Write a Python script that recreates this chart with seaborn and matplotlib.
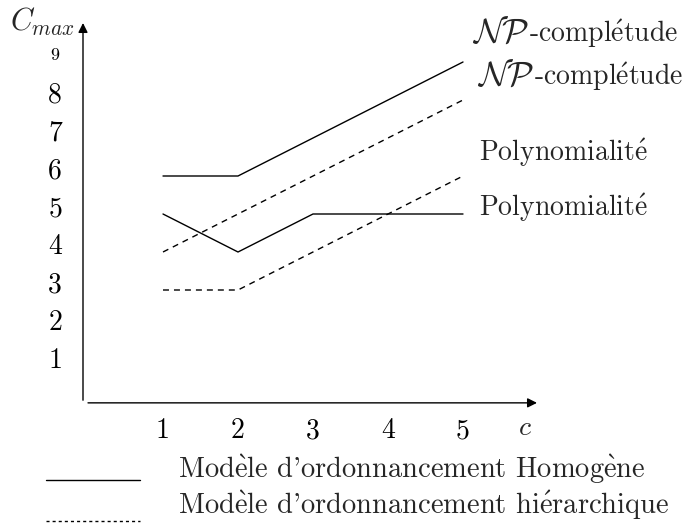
import pandas as pd
import matplotlib
matplotlib.use("Agg")
import matplotlib.pyplot as plt
import seaborn as sns
from matplotlib.lines import Line2D
from matplotlib.transforms import ScaledTranslation

# data
c_hom_np = [1, 2, 5]
cmax_hom_np = [6, 6, 9]
c_hom_poly = [1, 2, 3, 5]
cmax_hom_poly = [5, 4, 5, 5]
c_hier_np = [1, 5]
cmax_hier_np = [4, 8]
c_hier_poly = [1, 2, 5]
cmax_hier_poly = [3, 3, 6]

x_ticks = [1, 2, 3, 4, 5]
y_ticks = [1, 2, 3, 4, 5, 6, 7, 8, 9]
model_labels = ["Modèle d'ordonnancement Homogène", "Modèle d'ordonnancement hiérarchique"]
np_label = r"$\mathcal{NP}$"
np_suffix = "-complétude"
poly_label = "Polynomialité"


def tex(s):
    # cmr10 has no precomposed accents, let mathtext build them
    return s.replace("é", r"$\mathrm{\acute{e}}$").replace("è", r"$\mathrm{\grave{e}}$")


rows = []
for name, model, xs, ys in [
    ("hom_np", "Homogène", c_hom_np, cmax_hom_np),
    ("hom_poly", "Homogène", c_hom_poly, cmax_hom_poly),
    ("hier_np", "hiérarchique", c_hier_np, cmax_hier_np),
    ("hier_poly", "hiérarchique", c_hier_poly, cmax_hier_poly),
]:
    for x, y in zip(xs, ys):
        rows.append({"c": x, "cmax": y, "series": name, "model": model})
df = pd.DataFrame(rows)

sns.set_theme(style="white")
plt.rcParams["font.family"] = ["cmr10", "DejaVu Serif"]
plt.rcParams["mathtext.fontset"] = "cm"
plt.rcParams["axes.unicode_minus"] = False

fig = plt.figure(figsize=(6.86, 5.25), dpi=100)
ax = fig.add_axes([83 / 686, 1 - 404 / 525, (540 - 83) / 686, (404 - 23) / 525])
ax.set_xlim(-5 / 75, 452 / 75)
ax.set_ylim(0, 381 / 38)

sns.lineplot(data=df, x="c", y="cmax", units="series", style="model", estimator=None,
             dashes={"Homogène": "", "hiérarchique": (4.3, 3.6)}, color="black",
             lw=1, legend=False, sort=False, ax=ax)

for s in ax.spines.values():
    s.set_visible(False)

# axes with arrows
arrow = dict(arrowstyle="-|>", lw=1, color="black", mutation_scale=14, shrinkA=0, shrinkB=0)
ax.annotate("", xy=(-5 / 75, 381 / 38), xytext=(-5 / 75, 0.1), arrowprops=arrow, annotation_clip=False)
ax.annotate("", xy=(449 / 75, 0.03), xytext=(0, 0.03), arrowprops=arrow, annotation_clip=False)

ax.set_xticks(x_ticks)
ax.set_xticklabels([str(v) for v in x_ticks])
ax.set_yticks(y_ticks)
ax.set_yticklabels([str(v) for v in y_ticks])
ax.tick_params(axis="both", length=0, labelsize=20, colors="black")
ax.tick_params(axis="x", pad=10)
ax.tick_params(axis="y", pad=20)
for lbl in ax.get_yticklabels():
    lbl.set_ha("center")
    lbl.set_transform(lbl.get_transform() + ScaledTranslation(0, 0.08, fig.dpi_scale_trans))
ax.get_yticklabels()[-1].set_fontsize(13)
ax.set_xlabel("")
ax.set_ylabel("")

ax.text(-0.61, 10.05, r"$C_{max}$", fontsize=22, ha="center", va="center")
ax.text(5.83, -0.63, r"$c$", fontsize=20, ha="center", va="center")

# NP labels: larger calligraphic letters, suffix on the same baseline
for x, y in [(5.12, 9.53), (5.19, 8.39)]:
    t = ax.text(x, y, np_label, fontsize=25, ha="left", va="baseline")
    ax.annotate(tex(np_suffix), xy=(1, y), xycoords=(t, "data"), fontsize=20,
                ha="left", va="baseline", annotation_clip=False)
for x, y in [(5.21, 6.63), (5.21, 5.18)]:
    ax.text(x, y, tex(poly_label), fontsize=20, ha="left", va="center")

handles = [Line2D([], [], color="black", lw=1),
           Line2D([], [], color="black", lw=1, dashes=(2.2, 2.2))]
leg = fig.legend(handles, [tex(t) for t in model_labels], loc="upper left",
                 bbox_to_anchor=(46 / 686, 1 - 453 / 525),
                 frameon=False, fontsize=20.5, handlelength=3.3, handletextpad=1.35,
                 labelspacing=0.1, borderpad=0, borderaxespad=0)
# handles sit on the text baseline in the reference
for h, dy in zip(leg.get_lines(), [-0.12, -0.17]):
    h.set_transform(h.get_transform() + ScaledTranslation(0, dy, fig.dpi_scale_trans))

fig.savefig("out.png", dpi=100)
